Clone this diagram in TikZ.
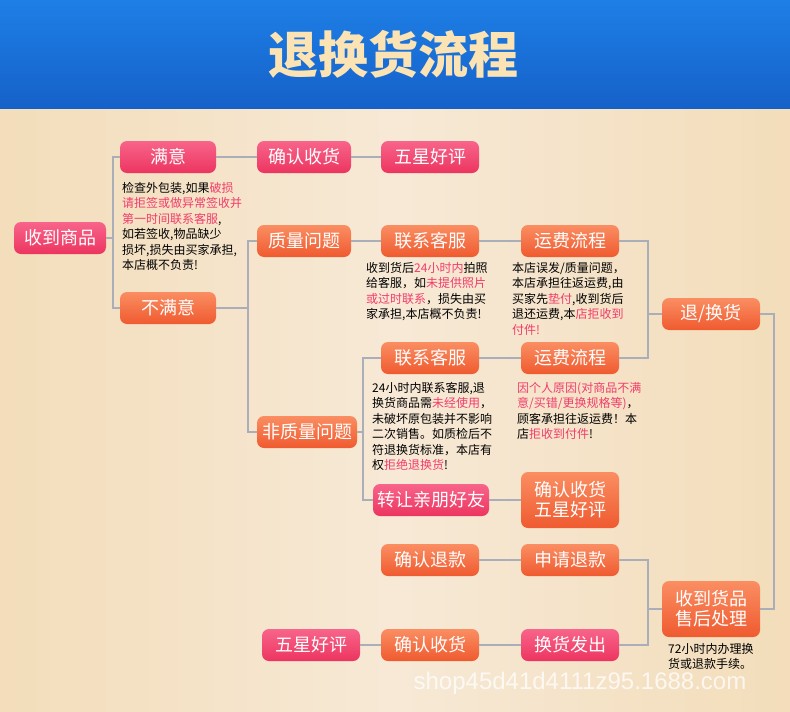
\documentclass[tikz,border=0pt]{standalone}
\usepackage{fontspec}
\setmainfont{Noto Sans CJK SC}
\newfontfamily\wm{Liberation Sans}
\begin{document}
\begin{tikzpicture}[x=1pt,y=-1pt,
 box/.style={rounded corners=7pt,text=white,font=\fontsize{18}{21}\selectfont,inner sep=0pt,minimum height=32pt,align=center},
 pk/.style={box,top color=pkA,bottom color=pkB},
 og/.style={box,top color=ogA,bottom color=ogB},
 ln/.style={draw=lnc,line width=2pt},
 tx/.style={font=\fontsize{12}{15.5}\selectfont,align=left,anchor=north west,inner sep=0pt,text=black},
 hl/.style={text=hlc}]
\definecolor{pkA}{HTML}{F8648A}\definecolor{pkB}{HTML}{EC3560}
\definecolor{ogA}{HTML}{FA8E62}\definecolor{ogB}{HTML}{F05A30}
\definecolor{lnc}{HTML}{A9AEB8}\definecolor{hlc}{HTML}{F23C6A}
\useasboundingbox (0,0) rectangle (790,712);
\definecolor{bgA}{HTML}{F7E9D6}\definecolor{bgB}{HTML}{F3DDBA}
\fill[left color=bgB,right color=bgB,middle color=bgA] (0,108) rectangle (790,712);
\definecolor{hdA}{HTML}{1E7FE6}\definecolor{hdB}{HTML}{1561C9}
\fill[top color=hdA,bottom color=hdB] (0,0) rectangle (790,108);
\definecolor{ttl}{HTML}{FBE3B4}
\node[font=\fontsize{50}{56}\selectfont\bfseries,text=ttl] (title) at (393,54) {退换货流程};
% nodes
\node[pk,minimum width=92pt] (a) at (60,238) {收到商品};
\node[pk,minimum width=96pt] (s) at (168,157) {满意};
\node[pk,minimum width=94pt] (c1) at (304,157) {确认收货};
\node[pk,minimum width=98pt] (f1) at (430,157) {五星好评};
\node[og,minimum width=96pt] (ns) at (168,308) {不满意};
\node[og,minimum width=94pt] (q) at (304,241) {质量问题};
\node[og,minimum width=98pt] (k1) at (430,241) {联系客服};
\node[og,minimum width=98pt] (y1) at (570,241) {运费流程};
\node[og,minimum width=98pt] (t) at (711,314) {退/换货};
\node[og,minimum width=98pt] (k2) at (430,358) {联系客服};
\node[og,minimum width=98pt] (y2) at (570,358) {运费流程};
\node[og,minimum width=100pt] (nq) at (307,432) {非质量问题};
\node[pk,minimum width=116pt] (z) at (431,500) {转让亲朋好友};
\node[og,minimum width=98pt,minimum height=56pt] (cf) at (570,500) {确认收货\\[-1pt]五星好评};
\node[og,minimum width=98pt] (r1) at (430,560) {确认退款};
\node[og,minimum width=98pt] (r2) at (570,560) {申请退款};
\node[og,minimum width=98pt,minimum height=56pt] (h) at (711,609) {收到货品\\[-1pt]售后处理};
\node[pk,minimum width=98pt] (e) at (570,645) {换货发出};
\node[og,minimum width=98pt] (c3) at (430,645) {确认收货};
\node[pk,minimum width=98pt] (f3) at (311,645) {五星好评};
% texts
\node[tx] (t1) at (122,182) {检查外包装,如果\textcolor{hlc}{破损}\\\textcolor{hlc}{请拒签或做异常签收并}\\\textcolor{hlc}{第一时间联系客服},\\如若签收,物品缺少\\损坏,损失由买家承担,\\本店概不负责!};
\node[tx] (t2) at (366,262) {收到货后\textcolor{hlc}{24小时内}拍照\\给客服，如\textcolor{hlc}{未提供照片}\\\textcolor{hlc}{或过时联系}，损失由买\\家承担,本店概不负责!};
\node[tx] (t3) at (512,262) {本店误发/质量问题，\\本店承担往返运费,由\\买家先\textcolor{hlc}{垫付},收到货后\\退还运费,本\textcolor{hlc}{店拒收到}\\\textcolor{hlc}{付件!}};
\node[tx] (t4) at (372,382) {24小时内联系客服,退\\换货商品需\textcolor{hlc}{未经使用}，\\未破坏原包装并不影响\\二次销售。如质检后不\\符退换货标准，本店有\\权\textcolor{hlc}{拒绝退换货}!};
\node[tx] (t5) at (517,382) {\textcolor{hlc}{因个人原因(对商品不满}\\\textcolor{hlc}{意/买错/更换规格等)}，\\顾客承担往返运费！本\\店\textcolor{hlc}{拒收到付件}!};
\node[tx] (t6) at (668,643) {72小时内办理换\\货或退款手续。};
\node[font=\wm\fontsize{24}{26}\selectfont,text=white,opacity=0.75] (w) at (580,683) {shop45d41d4111z95.1688.com};
% connectors
\draw[ln] (a.east) -- (113,238) coordinate (j1);
\draw[ln] (s.west) -| (j1) |- (ns.west);
\draw[ln] (s) -- (c1); \draw[ln] (c1) -- (f1);
\draw[ln] (ns.east) -- (248,308) coordinate (j2);
\draw[ln] (q.west) -| (j2) |- (nq.west);
\draw[ln] (q) -- (k1); \draw[ln] (k1) -- (y1);
\draw[ln] (y1.east) -| (648,358) coordinate (j3) -- (y2.east);
\draw[ln] (t.west) -- (648,314);
\draw[ln] (nq.east) -- (363,432) coordinate (j4);
\draw[ln] (k2.west) -| (j4) |- (z.west);
\draw[ln] (k2) -- (y2);
\draw[ln] (z) -- (cf);
\draw[ln] (t.east) -| (774,609) -- (h.east);
\draw[ln] (h.west) -- (648,609) coordinate (j5);
\draw[ln] (r2.east) -| (j5) |- (e.east);
\draw[ln] (r2) -- (r1);
\draw[ln] (e) -- (c3); \draw[ln] (c3) -- (f3);
\end{tikzpicture}
\end{document}
